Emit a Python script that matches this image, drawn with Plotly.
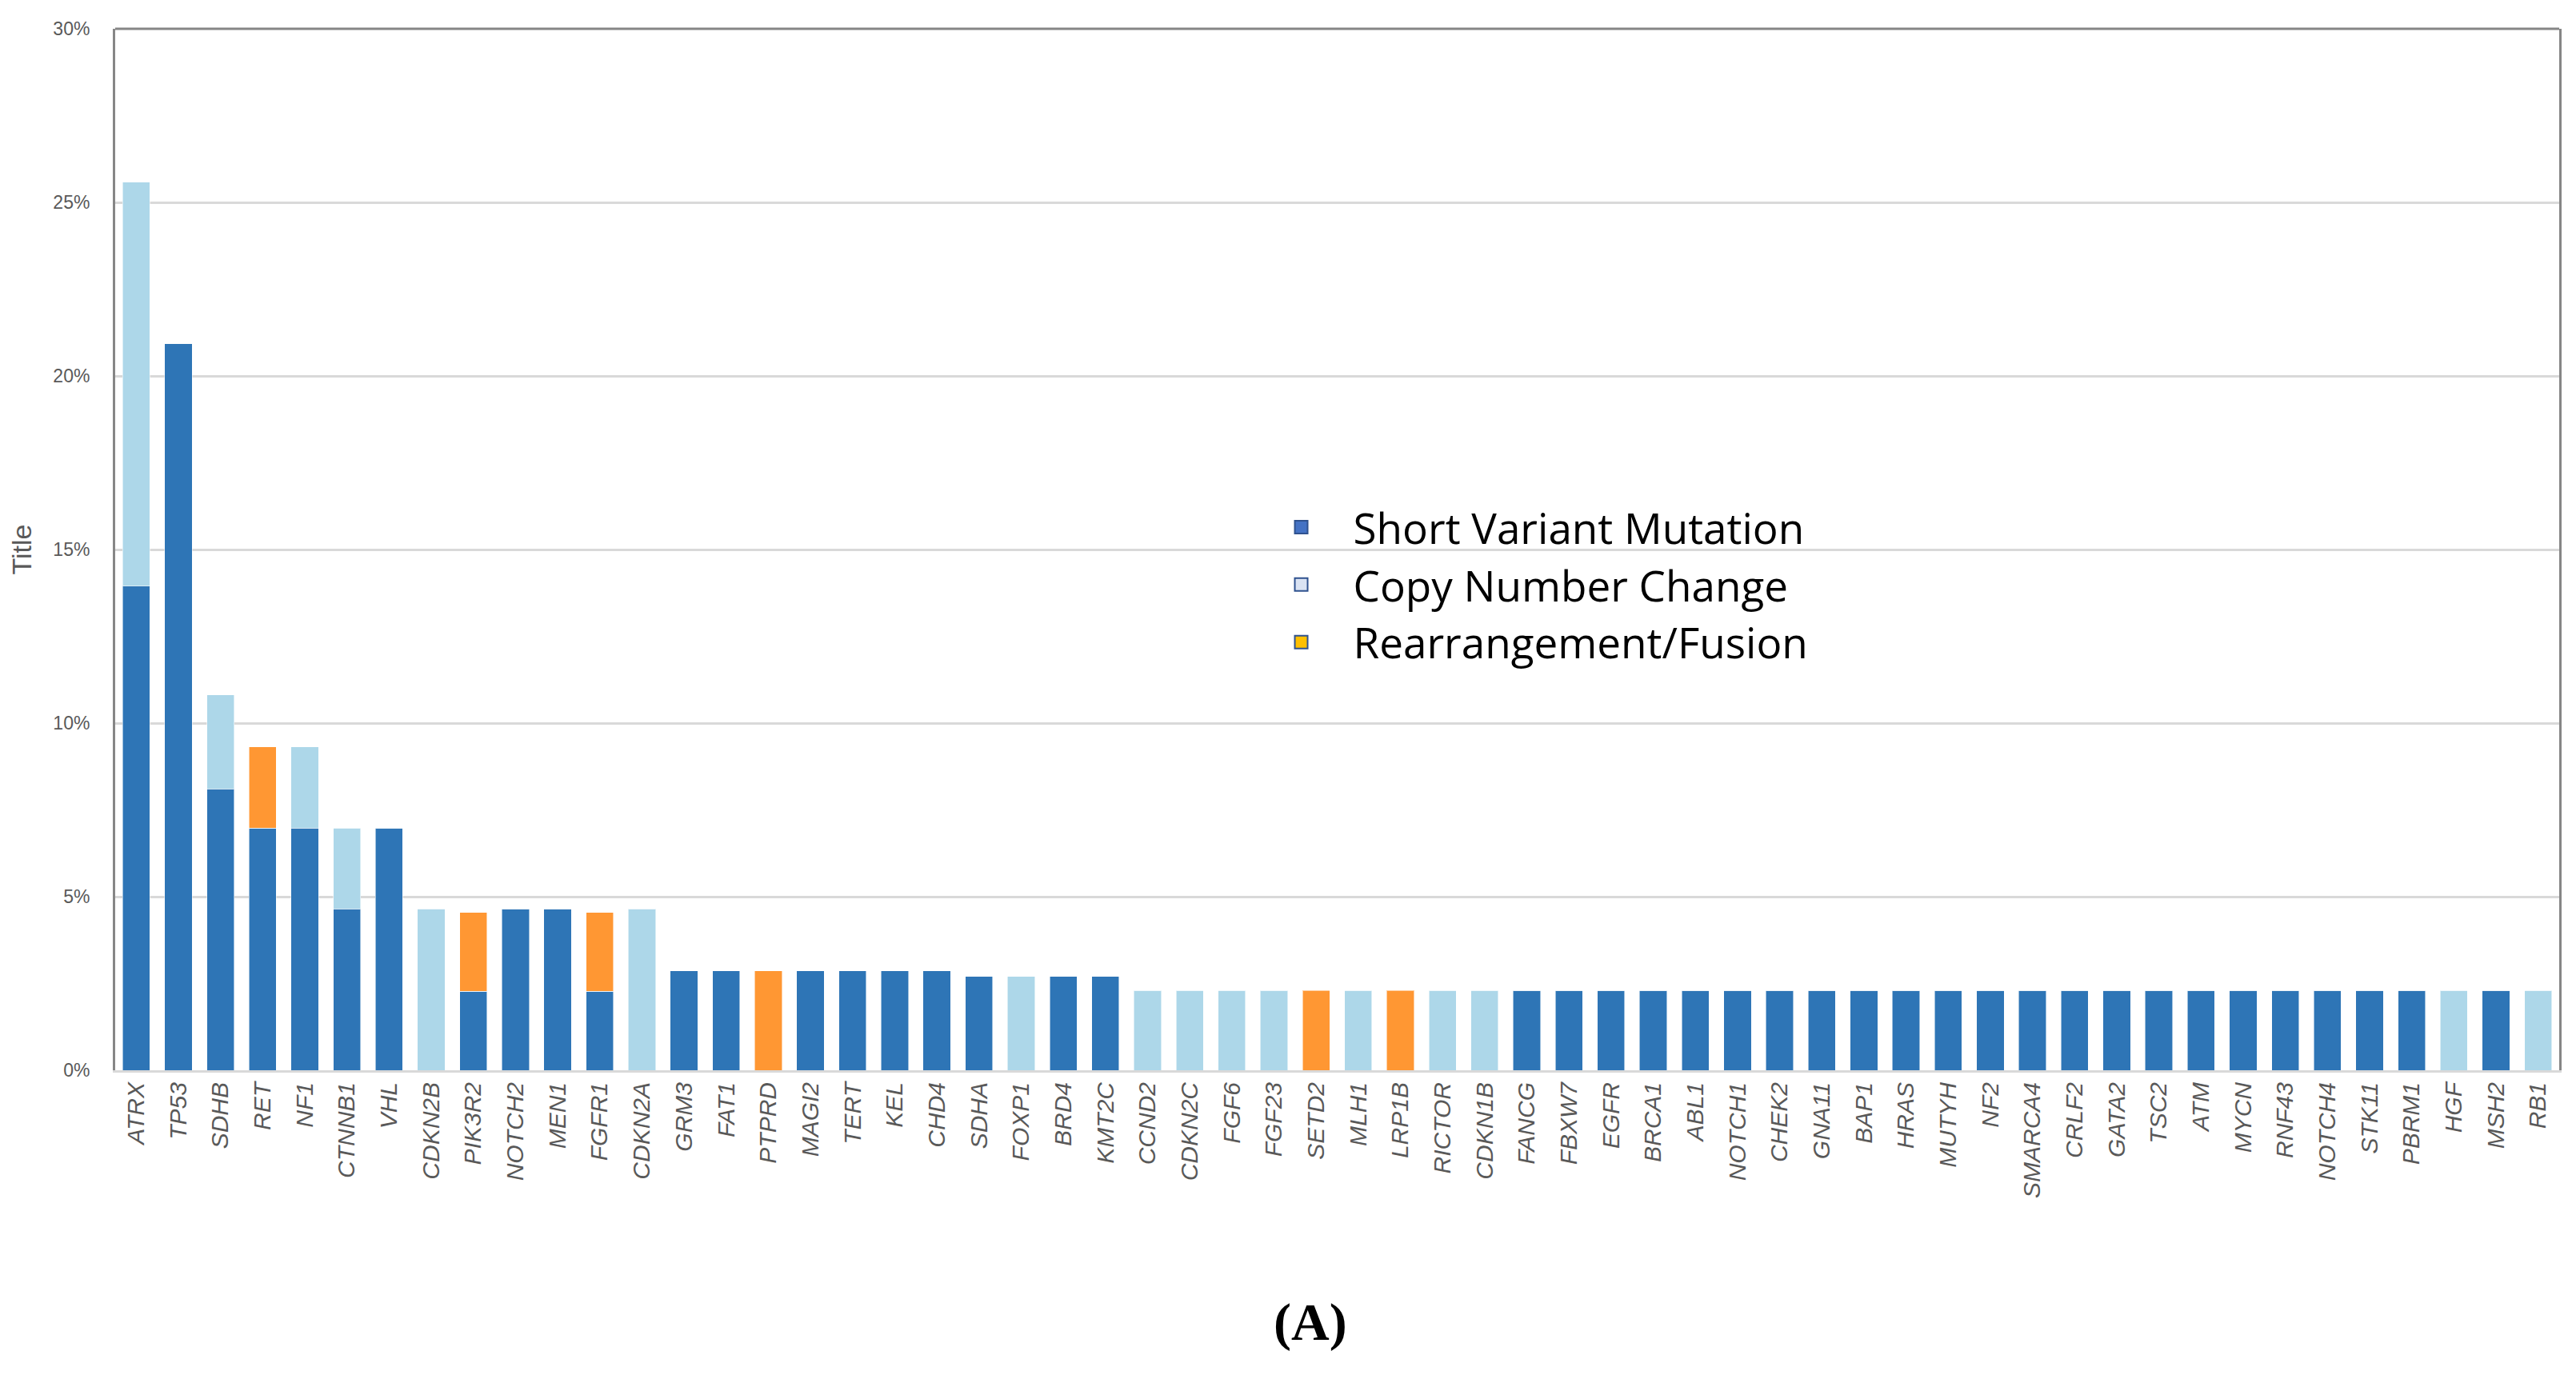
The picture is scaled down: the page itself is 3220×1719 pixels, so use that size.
import plotly.graph_objects as go

# ----------------------------------------
# Data (percent of cases)
# ----------------------------------------
genes = ['ATRX', 'TP53', 'SDHB', 'RET', 'NF1', 'CTNNB1', 'VHL', 'CDKN2B', 'PIK3R2', 'NOTCH2',
         'MEN1', 'FGFR1', 'CDKN2A', 'GRM3', 'FAT1', 'PTPRD', 'MAGI2', 'TERT', 'KEL', 'CHD4',
         'SDHA', 'FOXP1', 'BRD4', 'KMT2C', 'CCND2', 'CDKN2C', 'FGF6', 'FGF23', 'SETD2', 'MLH1',
         'LRP1B', 'RICTOR', 'CDKN1B', 'FANCG', 'FBXW7', 'EGFR', 'BRCA1', 'ABL1', 'NOTCH1', 'CHEK2',
         'GNA11', 'BAP1', 'HRAS', 'MUTYH', 'NF2', 'SMARCA4', 'CRLF2', 'GATA2', 'TSC2', 'ATM',
         'MYCN', 'RNF43', 'NOTCH4', 'STK11', 'PBRM1', 'HGF', 'MSH2', 'RB1']

short_variant = [13.95, 20.93, 8.11, 6.98, 6.98, 4.65, 6.98, 0, 2.27, 4.65,
                 4.65, 2.27, 0, 2.86, 2.86, 0, 2.86, 2.86, 2.86, 2.86,
                 2.70, 0, 2.70, 2.70, 0, 0, 0, 0, 0, 0,
                 0, 0, 0, 2.3, 2.3, 2.3, 2.3, 2.3, 2.3, 2.3,
                 2.3, 2.3, 2.3, 2.3, 2.3, 2.3, 2.3, 2.3, 2.3, 2.3,
                 2.3, 2.3, 2.3, 2.3, 2.3, 0, 2.3, 0]

copy_number = [11.63, 0, 2.70, 0, 2.33, 2.33, 0, 4.65, 0, 0,
               0, 0, 4.65, 0, 0, 0, 0, 0, 0, 0,
               0, 2.70, 0, 0, 2.3, 2.3, 2.3, 2.3, 0, 2.3,
               0, 2.3, 2.3, 0, 0, 0, 0, 0, 0, 0,
               0, 0, 0, 0, 0, 0, 0, 0, 0, 0,
               0, 0, 0, 0, 0, 2.3, 0, 2.3]

rearrangement = [0, 0, 0, 2.33, 0, 0, 0, 0, 2.27, 0,
                 0, 2.27, 0, 0, 0, 2.86, 0, 0, 0, 0,
                 0, 0, 0, 0, 0, 0, 0, 0, 2.3, 0,
                 2.3, 0, 0, 0, 0, 0, 0, 0, 0, 0,
                 0, 0, 0, 0, 0, 0, 0, 0, 0, 0,
                 0, 0, 0, 0, 0, 0, 0, 0]

legend_names = ['Short Variant Mutation', 'Copy Number Change', 'Rearrangement/Fusion']

# bar colours and the (different) colours of the pasted-in legend
bar_colors = ['#2E75B6', '#ADD7E9', '#FF9733']
legend_colors = ['#4472C4', '#DAE3F3', '#FFC000']

# ----------------------------------------
# Plot
# ----------------------------------------
fig = go.Figure()

for vals, col in zip([short_variant, copy_number, rearrangement], bar_colors):
    fig.add_trace(go.Bar(
        x=genes,
        y=vals,
        marker=dict(color=col, line=dict(color='rgba(255,255,255,0.55)', width=1)),
        showlegend=False
    ))

# legend-only entries
for name, col in zip(legend_names, legend_colors):
    fig.add_trace(go.Scatter(
        x=[None], y=[None],
        mode='markers',
        name=name,
        marker=dict(symbol='square', size=16, color=col, line=dict(color='#2F528F', width=2))
    ))

fig.update_layout(
    width=3220,
    height=1719,
    barmode='stack',
    bargap=0.35,
    plot_bgcolor='white',
    paper_bgcolor='white',
    margin=dict(l=136, r=29, t=28, b=389),
    legend=dict(
        x=0.464, y=0.553, xanchor='left', yanchor='top',
        traceorder='normal',
        font=dict(family='Open Sans', size=53, color='black'),
        itemsizing='trace',
        itemwidth=120,
        bgcolor='rgba(0,0,0,0)'
    ),
    xaxis=dict(
        type='category',
        tickangle=-90,
        tickfont=dict(family='Liberation Sans', size=30, color='#595959', style='italic'),
        showline=True, linecolor='#D9D9D9', linewidth=3,
        showgrid=False,
        ticks=''
    ),
    yaxis=dict(
        range=[0, 30],
        dtick=5,
        ticksuffix='%',
        tickfont=dict(family='Liberation Sans', size=23, color='#595959'),
        ticks='outside', ticklen=24, tickcolor='rgba(0,0,0,0)',
        showgrid=True, gridcolor='#D9D9D9', gridwidth=3,
        zeroline=False,
        showline=True, mirror=True, linecolor='#868686', linewidth=3,
        title=dict(text='Title', font=dict(family='Liberation Sans', size=34, color='#595959'),
                   standoff=18)
    ),
    annotations=[dict(
        text='<b>(A)</b>', xref='paper', yref='paper', x=0.489, y=-0.272,
        showarrow=False, font=dict(family='Liberation Serif', size=66, color='black')
    )],
    shapes=[dict(type='line', xref='paper', yref='paper', x0=0, x1=1, y0=1, y1=1,
                 line=dict(color='#868686', width=3))]
)

fig.write_html("out.html")
